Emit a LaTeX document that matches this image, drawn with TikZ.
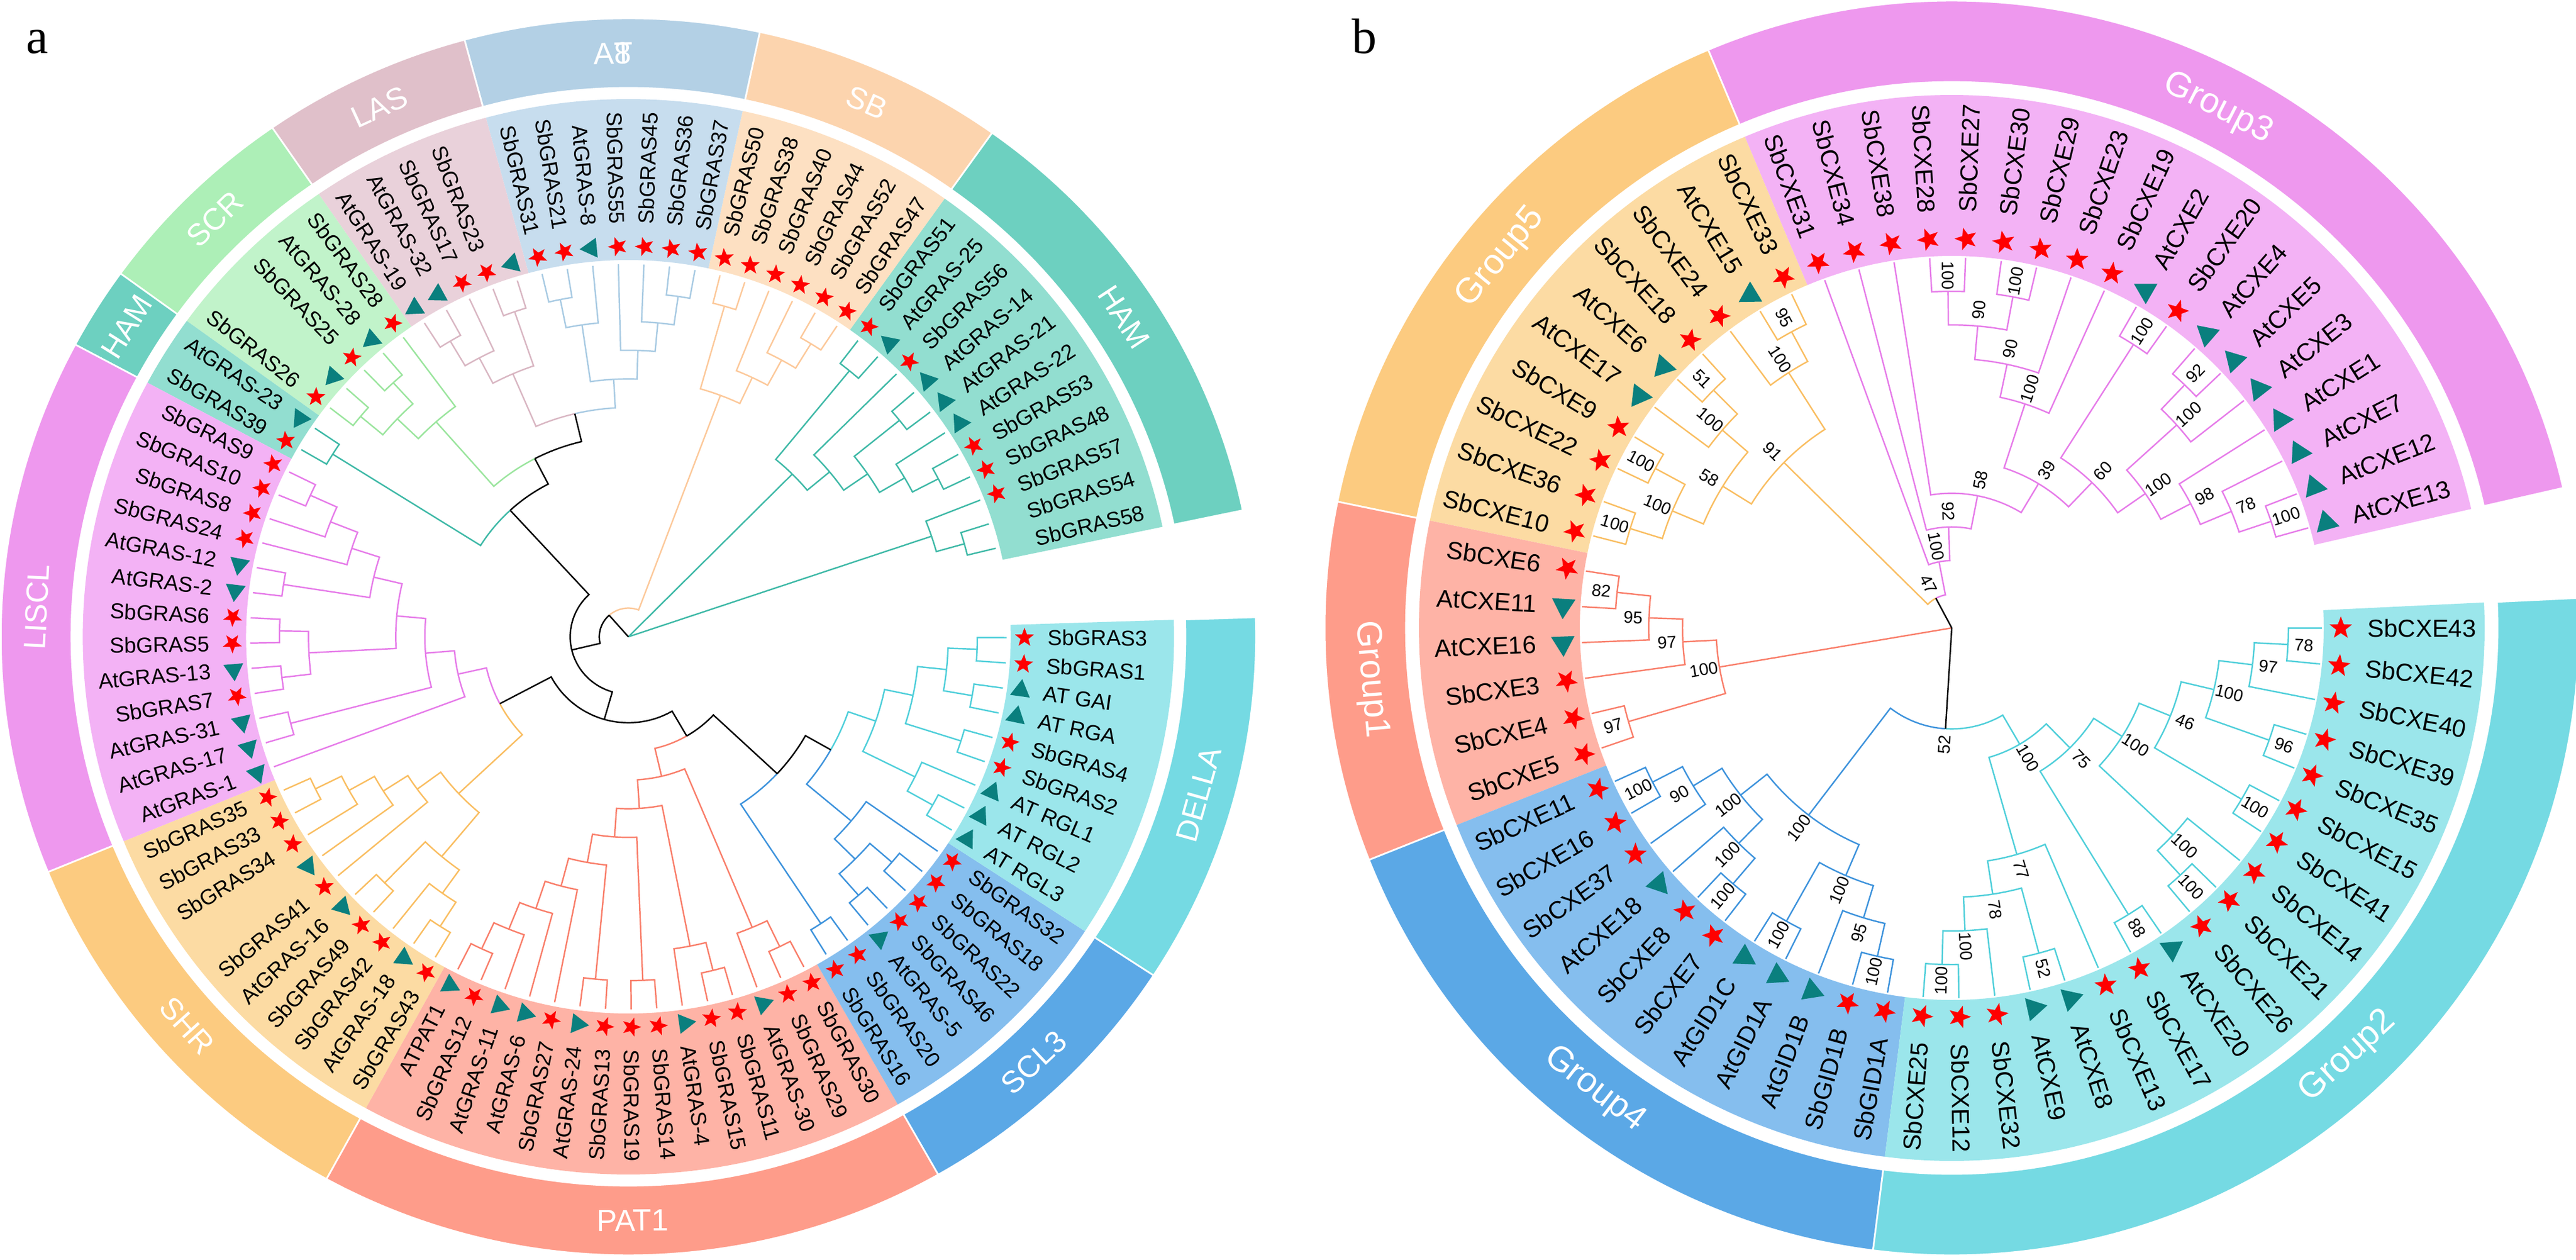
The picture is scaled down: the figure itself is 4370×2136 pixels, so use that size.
\documentclass[tikz,border=0pt]{standalone}
\usepackage{fontspec}
\setmainfont{Liberation Sans}
\newfontfamily\panelfont{Liberation Serif}
\usetikzlibrary{shapes.geometric}
\definecolor{hamt}{HTML}{3FB9A7}\definecolor{hamb}{HTML}{92DED0}\definecolor{hamr}{HTML}{6DD0C0}
\definecolor{sbt}{HTML}{FCC99B}\definecolor{sbb}{HTML}{FDE0C2}\definecolor{sbr}{HTML}{FCD4AE}
\definecolor{ast}{HTML}{A9CBE3}\definecolor{asb}{HTML}{C7DDEE}\definecolor{asr}{HTML}{B3D0E5}
\definecolor{last}{HTML}{D9B7C3}\definecolor{lasb}{HTML}{E9D1DA}\definecolor{lasr}{HTML}{E0C0CA}
\definecolor{scrt}{HTML}{9BE59E}\definecolor{scrb}{HTML}{C1F3CA}\definecolor{scrr}{HTML}{ADEFB7}
\definecolor{lislt}{HTML}{E67CE9}\definecolor{lislb}{HTML}{F3B2F5}\definecolor{lislr}{HTML}{EE98EE}
\definecolor{shrt}{HTML}{F9BE62}\definecolor{shrb}{HTML}{FCDBA3}\definecolor{shrr}{HTML}{FCCB80}
\definecolor{patt}{HTML}{F97F6B}\definecolor{patb}{HTML}{FEB3A6}\definecolor{patr}{HTML}{FE9C8A}
\definecolor{sclt}{HTML}{3E93DC}\definecolor{sclb}{HTML}{85BEEE}\definecolor{sclr}{HTML}{5BA8E6}
\definecolor{delt}{HTML}{50CFDA}\definecolor{delb}{HTML}{9BE6EB}\definecolor{delr}{HTML}{75DAE3}
\definecolor{atgreen}{HTML}{0A7F7E}
\tikzset{
    branch/.style={line width=.7pt},
    leaf/.style={inner sep=0pt},
    sbmark/.style={star,star points=5,star point ratio=2.4,fill=red,inner sep=0pt},
    atmark/.style={regular polygon,regular polygon sides=3,fill=atgreen,inner sep=0pt},
    ringname/.style={text=white,inner sep=0pt},
    panel/.style={font=\panelfont\fontsize{24}{24}\selectfont,anchor=base,inner sep=0pt},
    support/.style={font=\fontsize{8.2}{9}\selectfont,inner sep=0pt},
}
\newcount\leafno
% one coloured group: band, outer ring, its name, markers, labels, tree tips
\newcommand{\clan}[3]{%
  \pgfmathsetmacro\afrom{\astart+\the\leafno*\astep}
  \foreach \nm/\mk [count=\k] in {#3} {\xdef\nleaves{\k}}
  \pgfmathsetmacro\ato{\afrom+\nleaves*\astep}
  \pgfmathsetmacro\amid{(\afrom+\ato)/2}
  \fill[#1b] (\afrom:\rbi) arc[start angle=\afrom,end angle=\ato,radius=\rbi] -- (\ato:\rbo) arc[start angle=\ato,end angle=\afrom,radius=\rbo] -- cycle;
  \fill[#1r,draw=white,line width=.8pt] (\afrom:\rri) arc[start angle=\afrom,end angle=\ato,radius=\rri] -- (\ato:\rro) arc[start angle=\ato,end angle=\afrom,radius=\rro] -- cycle;
  \pgfmathsetmacro\rrot{(\amid>0 && \amid<180) ? \amid-90 : \amid+90}
  \node[ringname,rotate=\rrot] (\pfx#1) at (\amid:\rmid) {#2};
  \foreach \nm/\mk [count=\k] in {#3} {
    \pgfmathtruncatemacro\n{\the\leafno+\k}
    \pgfmathsetmacro\a{\astart+(\n-.5)*\astep}
    \expandafter\xdef\csname ang\pfx t\n\endcsname{\a}
    \expandafter\xdef\csname col\pfx t\n\endcsname{#1t}
    \coordinate (\pfx t\n) at (\a:\rtip);
    \if s\mk \node[sbmark,rotate=\a] (\pfx m\n) at (\a:\rmk) {}; \fi
    \if t\mk \node[atmark,rotate=\a] (\pfx m\n) at (\a:\rmk) {}; \fi
    \ifx\nm\empty\else
      \pgfmathtruncatemacro\onleft{(\a>=90 && \a<270) ? 1 : 0}
      \ifnum\onleft=1
        \pgfmathsetmacro\lrot{\a+180}
        \node[leaf,rotate=\lrot,anchor=east] (\pfx l\n) at (\a:\rlab) {\nm};
      \else
        \node[leaf,rotate=\a,anchor=west] (\pfx l\n) at (\a:\rlab) {\nm};
      \fi
    \fi
  }
  \global\advance\leafno by \nleaves\relax
}
% inner tree node: name, colour, level, two children
\newcommand{\clade}[5]{%
  \pgfmathsetmacro\nr{#3*\lvl}
  \edef\ca{\csname ang#4\endcsname}
  \edef\cb{\csname ang#5\endcsname}
  \edef\cola{\csname col#4\endcsname}
  \edef\colb{\csname col#5\endcsname}
  \pgfmathsetmacro\na{(\ca+\cb)/2}
  \expandafter\xdef\csname ang#1\endcsname{\na}
  \expandafter\xdef\csname col#1\endcsname{#2}
  \coordinate (#1) at (\na:\nr);
  \draw[branch,draw=\cola] (#4) -- (\ca:\nr) arc[start angle=\ca,end angle=\na,radius=\nr];
  \draw[branch,draw=\colb] (#5) -- (\cb:\nr) arc[start angle=\cb,end angle=\na,radius=\nr];
}
% bootstrap value of the last clade
\newcommand{\boot}[1]{%
  \pgfmathsetmacro\br{\nr+27}
  \pgfmathsetmacro\brot{(\na>=90 && \na<270) ? \na+180 : \na}
  \node[support,rotate=\brot] at (\na:\br) {#1};
}
\begin{document}
\begin{tikzpicture}[x=0.01cm,y=0.01cm]
\useasboundingbox (0,0) rectangle (4370,-2136);

\node[panel] (la) at (63,-90) {a};
\node[panel] (lb) at (2315,-90) {b};

% panel a
\begin{scope}[shift={(1066,-1080)},xscale=1.015,
    leaf/.append style={font=\fontsize{10.4}{12}\selectfont},
    ringname/.append style={font=\fontsize{14.8}{17}\selectfont},
    sbmark/.append style={minimum size=.34cm},
    atmark/.append style={minimum size=.39cm}]
 \def\pfx{at}\def\astart{11.8}\def\astep{3.889}\def\lvl{48.6}
 \def\rbi{639}\def\rbo{912}\def\rri{931}\def\rro{1049}\def\rmid{990}
 \def\rtip{632}\def\rmk{662}\def\rlab{700}
 \leafno=0
 \clan{ham}{HAM}{SbGRAS58/n,SbGRAS54/n,SbGRAS57/s,SbGRAS48/s,SbGRAS53/s,AtGRAS-22/t,AtGRAS-21/t,AtGRAS-14/t,SbGRAS56/s,AtGRAS-25/t,SbGRAS51/s}
 \clan{sb}{SB}{SbGRAS47/s,SbGRAS52/s,SbGRAS44/s,SbGRAS40/s,SbGRAS38/s,SbGRAS50/s}
 \clan{as}{A\rlap{T}8}{SbGRAS37/s,SbGRAS36/s,SbGRAS45/s,SbGRAS55/s,AtGRAS-8/t,SbGRAS21/s,SbGRAS31/s}
 \clan{las}{LAS}{/t,SbGRAS23/s,SbGRAS17/s,AtGRAS-32/t,AtGRAS-19/t}
 \clan{scr}{SCR}{SbGRAS28/s,AtGRAS-28/t,SbGRAS25/s,/t,SbGRAS26/s}
 \clan{ham}{HAM}{AtGRAS-23/t,SbGRAS39/s}
 \clan{lisl}{LISCL}{SbGRAS9/s,SbGRAS10/s,SbGRAS8/s,SbGRAS24/s,AtGRAS-12/t,AtGRAS-2/t,SbGRAS6/s,SbGRAS5/s,AtGRAS-13/t,SbGRAS7/s,AtGRAS-31/t,AtGRAS-17/t,AtGRAS-1/t}
 \clan{shr}{SHR}{SbGRAS35/s,SbGRAS33/s,SbGRAS34/s,/t,SbGRAS41/s,AtGRAS-16/t,SbGRAS49/s,SbGRAS42/s,AtGRAS-18/t,SbGRAS43/s}
 \clan{pat}{PAT1}{ATPAT1/t,SbGRAS12/s,AtGRAS-11/t,AtGRAS-6/t,SbGRAS27/s,AtGRAS-24/t,SbGRAS13/s,SbGRAS19/s,SbGRAS14/s,AtGRAS-4/t,SbGRAS15/s,SbGRAS11/s,AtGRAS-30/t,SbGRAS29/s,SbGRAS30/s}
 \clan{scl}{SCL3}{SbGRAS16/s,SbGRAS20/s,AtGRAS-5/t,SbGRAS46/s,SbGRAS22/s,SbGRAS18/s,SbGRAS32/s}
 \clan{del}{DELLA}{AT RGL3/t,AT RGL2/t,AT RGL1/t,SbGRAS2/s,SbGRAS4/s,AT RGA/t,AT GAI/t,SbGRAS1/s,SbGRAS3/s}

 % HAM
 \clade{H9}{hamt}{12}{att1}{att2}
 \clade{H8}{hamt}{11}{att3}{H9}
 \clade{H7}{hamt}{12}{att4}{att5}
 \clade{H6}{hamt}{11}{att6}{H7}
 \clade{H5}{hamt}{12}{att7}{att8}
 \clade{H4}{hamt}{10}{H6}{H5}
 \clade{H3}{hamt}{9}{att9}{H4}
 \clade{H2}{hamt}{12}{att10}{att11}
 \clade{H1}{hamt}{8}{H3}{H2}
 % SB
 \clade{SB5}{sbt}{12}{att12}{att13}
 \clade{SB4}{sbt}{11}{SB5}{att14}
 \clade{SB3}{sbt}{10}{SB4}{att15}
 \clade{SB2}{sbt}{12}{att16}{att17}
 \clade{SB1}{sbt}{9}{SB3}{SB2}
 % AS and LAS
 \clade{A6}{ast}{12}{att18}{att19}
 \clade{A5}{ast}{11}{A6}{att20}
 \clade{A4}{ast}{10}{A5}{att21}
 \clade{A3}{ast}{12}{att23}{att24}
 \clade{A2}{ast}{11}{att22}{A3}
 \clade{A1}{ast}{9}{A4}{A2}
 \clade{L2}{last}{12}{att25}{att26}
 \clade{L4}{last}{12}{att28}{att29}
 \clade{L3}{last}{11}{att27}{L4}
 \clade{L1}{last}{10}{L2}{L3}
 \clade{Dd}{black}{8}{A1}{L1}
 % SCR
 \clade{S3}{scrt}{12}{att31}{att32}
 \clade{S4}{scrt}{12}{att33}{att34}
 \clade{S2}{scrt}{11}{S3}{S4}
 \clade{S1}{scrt}{10}{att30}{S2}
 \clade{Bb}{black}{7}{Dd}{S1}
 \clade{Hs}{hamt}{12}{att35}{att36}
 \clade{Aa}{black}{6}{Bb}{Hs}
 % LISCL
 \clade{Q11}{lislt}{12}{att37}{att38}
 \clade{Q12}{lislt}{11}{Q11}{att39}
 \clade{Q13}{lislt}{10}{Q12}{att40}
 \clade{Q9}{lislt}{12}{att41}{att42}
 \clade{Q5}{lislt}{9}{Q13}{Q9}
 \clade{Q7}{lislt}{12}{att43}{att44}
 \clade{Q8}{lislt}{12}{att45}{att46}
 \clade{Q6}{lislt}{11}{Q7}{Q8}
 \clade{Q4}{lislt}{8}{Q5}{Q6}
 \clade{Q3}{lislt}{12}{att47}{att48}
 \clade{Q2}{lislt}{7}{Q4}{Q3}
 \clade{Q1}{lislt}{6}{Q2}{att49}
 % SHR
 \clade{Z11}{shrt}{12}{att50}{att51}
 \clade{Z12}{shrt}{11}{Z11}{att52}
 \clade{Z13}{shrt}{10}{Z12}{att53}
 \clade{Z2}{shrt}{9}{Z13}{att54}
 \clade{Z4}{shrt}{12}{att55}{att56}
 \clade{Z6}{shrt}{12}{att58}{att59}
 \clade{Z5}{shrt}{11}{att57}{Z6}
 \clade{Z3}{shrt}{10}{Z4}{Z5}
 \clade{Z1}{shrt}{8}{Z2}{Z3}
 \clade{Ee}{black}{5}{Q1}{Z1}
 % PAT1
 \clade{P14}{patt}{12}{att60}{att61}
 \clade{P13}{patt}{11}{P14}{att62}
 \clade{P12}{patt}{10}{P13}{att63}
 \clade{P11}{patt}{9}{P12}{att64}
 \clade{P10}{patt}{12}{att65}{att66}
 \clade{P9}{patt}{8}{P11}{P10}
 \clade{P8}{patt}{12}{att67}{att68}
 \clade{P7}{patt}{7}{P9}{P8}
 \clade{P6}{patt}{12}{att70}{att71}
 \clade{P5}{patt}{11}{att69}{P6}
 \clade{P4}{patt}{6}{P7}{P5}
 \clade{P3}{patt}{12}{att73}{att74}
 \clade{P2}{patt}{11}{att72}{P3}
 \clade{P1}{patt}{5}{P4}{P2}
 % SCL3 and DELLA
 \clade{K0}{sclt}{12}{att75}{att76}
 \clade{K1}{sclt}{12}{att77}{att78}
 \clade{K2}{sclt}{12}{att79}{att80}
 \clade{K3}{sclt}{11}{K1}{K2}
 \clade{K4}{sclt}{10}{K3}{att81}
 \clade{D3}{delt}{12}{att82}{att83}
 \clade{D2}{delt}{11}{D3}{att84}
 \clade{D8}{delt}{12}{att85}{att86}
 \clade{D7}{delt}{12}{att87}{att88}
 \clade{D6}{delt}{12}{att89}{att90}
 \clade{D5}{delt}{11}{D7}{D6}
 \clade{D4}{delt}{10}{D8}{D5}
 \clade{D1}{delt}{9}{D2}{D4}
 \clade{Ii}{black}{8}{K4}{D1}
 \clade{Gg}{black}{7}{K0}{Ii}
 \clade{Ff}{black}{4}{P1}{Gg}
 \clade{Cc}{black}{3}{Ee}{Ff}
 \clade{N3}{black}{2}{Aa}{Cc}
 \clade{N1}{black}{1}{SB1}{N3}
 \coordinate (aroot) at (0,0);
 \draw[branch,draw=hamt] (aroot) -- (H1) (aroot) -- (H8);
 \draw[branch,draw=black] (aroot) -- (N1);
\end{scope}

% panel b
\begin{scope}[shift={(3311,-1065)},
    leaf/.append style={font=\fontsize{11.9}{14}\selectfont},
    ringname/.append style={font=\fontsize{17}{20}\selectfont},
    sbmark/.append style={minimum size=.40cm},
    atmark/.append style={minimum size=.46cm}]
 \def\pfx{bt}\def\astart{12.9}\def\astep{5.553}\def\lvl{57.1}
 \def\rbi{631}\def\rbo{904}\def\rri{926}\def\rro{1064}\def\rmid{990}
 \def\rtip{628}\def\rmk{660}\def\rlab{705}
 \global\leafno=0
 \clan{lisl}{Group3}{AtCXE13/t,AtCXE12/t,AtCXE7/t,AtCXE1/t,AtCXE3/t,AtCXE5/t,AtCXE4/t,SbCXE20/s,AtCXE2/t,SbCXE19/s,SbCXE23/s,SbCXE29/s,SbCXE30/s,SbCXE27/s,SbCXE28/s,SbCXE38/s,SbCXE34/s,SbCXE31/s}
 \clan{shr}{Group5}{SbCXE33/s,AtCXE15/t,SbCXE24/s,SbCXE18/s,AtCXE6/t,AtCXE17/t,SbCXE9/s,SbCXE22/s,SbCXE36/s,SbCXE10/s}
 \clan{pat}{Group1}{SbCXE6/s,AtCXE11/t,AtCXE16/t,SbCXE3/s,SbCXE4/s,SbCXE5/s}
 \clan{scl}{Group4}{SbCXE11/s,SbCXE16/s,SbCXE37/s,AtCXE18/t,SbCXE8/s,SbCXE7/s,AtGID1C/t,AtGID1A/t,AtGID1B/t,SbGID1B/s,SbGID1A/s}
 \clan{del}{Group2}{SbCXE25/s,SbCXE12/s,SbCXE32/s,AtCXE9/t,AtCXE8/t,SbCXE13/s,SbCXE17/s,AtCXE20/t,SbCXE26/s,SbCXE21/s,SbCXE14/s,SbCXE41/s,SbCXE15/s,SbCXE35/s,SbCXE39/s,SbCXE40/s,SbCXE42/s,SbCXE43/s}

 % Group3
 \clade{g15}{lislt}{10}{btt1}{btt2}\boot{100}
 \clade{g14}{lislt}{9}{btt3}{g15}\boot{78}
 \clade{g13}{lislt}{8}{g14}{btt4}\boot{98}
 \clade{g12}{lislt}{10}{btt6}{btt7}\boot{92}
 \clade{g11}{lislt}{9}{btt5}{g12}\boot{100}
 \clade{g10}{lislt}{7}{g13}{g11}\boot{100}
 \clade{gp3}{lislt}{10}{btt8}{btt9}\boot{100}
 \clade{g7}{lislt}{6}{g10}{gp3}\boot{60}
 \clade{gp2}{lislt}{10}{btt12}{btt13}\boot{100}
 \clade{gp1}{lislt}{10}{btt14}{btt15}\boot{100}
 \clade{g9}{lislt}{9}{gp2}{gp1}\boot{90}
 \clade{g8}{lislt}{8}{btt11}{g9}\boot{90}
 \clade{g6}{lislt}{7}{btt10}{g8}\boot{100}
 \clade{g5}{lislt}{5}{g7}{g6}\boot{39}
 \clade{g4}{lislt}{4}{g5}{btt16}\boot{58}
 \clade{g3}{lislt}{3}{g4}{btt17}\boot{92}
 \clade{g2}{lislt}{2}{g3}{btt18}\boot{100}
 % Group5
 \clade{o3}{shrt}{10}{btt19}{btt20}\boot{95}
 \clade{o2}{shrt}{9}{o3}{btt21}\boot{100}
 \clade{o6}{shrt}{10}{btt22}{btt23}\boot{51}
 \clade{o5}{shrt}{9}{o6}{btt24}\boot{100}
 \clade{o9}{shrt}{10}{btt25}{btt26}\boot{100}
 \clade{o8}{shrt}{10}{btt27}{btt28}\boot{100}
 \clade{o7}{shrt}{9}{o9}{o8}\boot{100}
 \clade{o4}{shrt}{8}{o5}{o7}\boot{58}
 \clade{o1}{shrt}{7}{o2}{o4}\boot{91}
 \clade{g1}{black}{1}{g2}{o1}\boot{47}
 % Group1
 \clade{r5}{patt}{10}{btt29}{btt30}\boot{82}
 \clade{r4}{patt}{9}{r5}{btt31}\boot{95}
 \clade{r3}{patt}{8}{r4}{btt32}\boot{97}
 \clade{r2}{patt}{10}{btt33}{btt34}\boot{97}
 \clade{r1}{patt}{7}{r3}{r2}\boot{100}
 % Group4
 \clade{f5}{sclt}{10}{btt35}{btt36}\boot{100}
 \clade{f4}{sclt}{9}{f5}{btt37}\boot{90}
 \clade{f7}{sclt}{10}{btt39}{btt40}\boot{100}
 \clade{f6}{sclt}{9}{btt38}{f7}\boot{100}
 \clade{f2}{sclt}{8}{f4}{f6}\boot{100}
 \clade{f8}{sclt}{10}{btt41}{btt42}\boot{100}
 \clade{f10}{sclt}{10}{btt44}{btt45}\boot{100}
 \clade{f9}{sclt}{9}{btt43}{f10}\boot{95}
 \clade{f3}{sclt}{8}{f8}{f9}\boot{100}
 \clade{f1}{sclt}{7}{f2}{f3}\boot{100}
 % Group2
 \clade{c6}{delt}{10}{btt46}{btt47}\boot{100}
 \clade{c5}{delt}{9}{c6}{btt48}\boot{100}
 \clade{c4}{delt}{10}{btt49}{btt50}\boot{52}
 \clade{c3}{delt}{8}{c5}{c4}\boot{78}
 \clade{c2}{delt}{7}{c3}{btt51}\boot{77}
 \clade{c8}{delt}{10}{btt52}{btt53}\boot{88}
 \clade{c11}{delt}{10}{btt54}{btt55}\boot{100}
 \clade{c10}{delt}{9}{c11}{btt56}\boot{100}
 \clade{c13}{delt}{10}{btt57}{btt58}\boot{100}
 \clade{c15}{delt}{10}{btt59}{btt60}\boot{96}
 \clade{c17}{delt}{10}{btt62}{btt63}\boot{78}
 \clade{c16}{delt}{9}{btt61}{c17}\boot{97}
 \clade{c14}{delt}{8}{c15}{c16}\boot{100}
 \clade{c12}{delt}{7}{c13}{c14}\boot{46}
 \clade{c9}{delt}{6}{c10}{c12}\boot{100}
 \clade{c7}{delt}{5}{c8}{c9}\boot{75}
 \clade{c1}{delt}{4}{c2}{c7}\boot{100}
 \clade{blk}{black}{3}{f1}{c1}\boot{52}
 \coordinate (broot) at (0,0);
 \draw[branch,draw=patt] (broot) -- (r1);
 \draw[branch,draw=black] (broot) -- (g1) (broot) -- (blk);
\end{scope}

\end{tikzpicture}
\end{document}
